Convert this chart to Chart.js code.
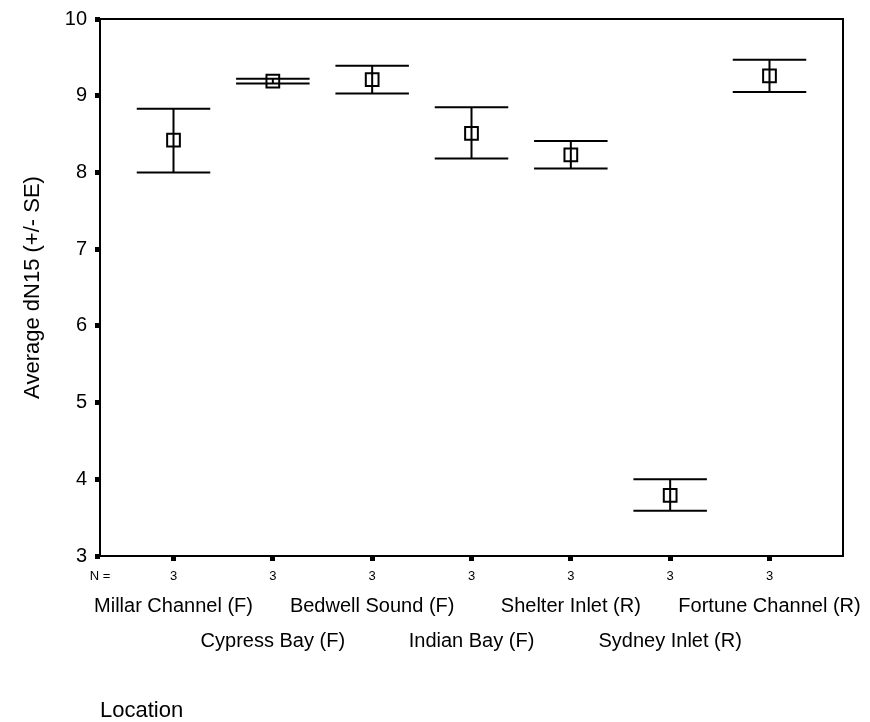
<!DOCTYPE html>
<html>
<head>
<meta charset="utf-8">
<script src="https://cdn.jsdelivr.net/npm/chart.js@4.4.1/dist/chart.umd.min.js"></script>
<style>
html,body{margin:0;padding:0;background:#fff;}
#wrap{width:870px;height:722px;position:relative;}
</style>
</head>
<body>
<div id="wrap"><canvas id="c" width="870" height="722"></canvas></div>
<script>
// ---- data ----
const categories = ['Millar Channel (F)', 'Cypress Bay (F)', 'Bedwell Sound (F)', 'Indian Bay (F)', 'Shelter Inlet (R)', 'Sydney Inlet (R)', 'Fortune Channel (R)'];
const means = [8.42, 9.19, 9.21, 8.51, 8.23, 3.79, 9.26];
const upper = [8.83, 9.22, 9.39, 8.85, 8.41, 4.00, 9.47];
const lower = [8.00, 9.16, 9.03, 8.18, 8.05, 3.59, 9.05];
const counts = [3, 3, 3, 3, 3, 3, 3];
const yTicks = [3, 4, 5, 6, 7, 8, 9, 10];

const FONT = 'Arial, "Liberation Sans", Helvetica, sans-serif';

const errorBars = {
  id: 'errorBars',
  afterDatasetsDraw(chart) {
    const ctx = chart.ctx, xs = chart.scales.x, ys = chart.scales.y;
    ctx.save();
    ctx.strokeStyle = '#000';
    ctx.lineWidth = 2;
    means.forEach((m, i) => {
      const cx = xs.getPixelForValue(i);
      const xl = xs.getPixelForValue(i - 0.37), xr = xs.getPixelForValue(i + 0.37);
      const yu = ys.getPixelForValue(upper[i]), yl = ys.getPixelForValue(lower[i]);
      ctx.beginPath();
      ctx.moveTo(cx, yu); ctx.lineTo(cx, yl);
      ctx.moveTo(xl, yu); ctx.lineTo(xr, yu);
      ctx.moveTo(xl, yl); ctx.lineTo(xr, yl);
      ctx.stroke();
    });
    // frame
    const a = chart.chartArea;
    ctx.lineWidth = 2;
    ctx.strokeRect(a.left, a.top, a.right - a.left, a.bottom - a.top);
    // N row
    ctx.fillStyle = '#000';
    ctx.font = '13px ' + FONT;
    ctx.textAlign = 'center';
    ctx.textBaseline = 'middle';
    ctx.fillText('N =', a.left, 576);
    counts.forEach((n, i) => ctx.fillText(String(n), xs.getPixelForValue(i), 576));
    ctx.restore();
  }
};

new Chart(document.getElementById('c'), {
  type: 'scatter',
  data: {
    datasets: [{
      data: means.map((m, i) => ({ x: i, y: m })),
      pointStyle: 'rect',
      pointRadius: 9,
      pointHoverRadius: 9,
      backgroundColor: 'rgba(255,255,255,0)',
      borderColor: '#000',
      borderWidth: 2
    }]
  },
  plugins: [errorBars],
  options: {
    responsive: false,
    animation: false,
    devicePixelRatio: 1,
    layout: { padding: { left: 0, right: 27, top: 19, bottom: 0 } },
    plugins: { legend: { display: false }, tooltip: { enabled: false } },
    scales: {
      x: {
        type: 'linear',
        position: 'bottom',
        min: -0.74,
        max: 6.74,
        afterBuildTicks: (s) => { s.ticks = categories.map((c, i) => ({ value: i })); },
        afterFit: (s) => { s.height = 166; s.paddingLeft = 0; s.paddingRight = 0; },
        border: { display: false },
        grid: { drawOnChartArea: false, drawTicks: true, tickLength: 5, tickWidth: 5, tickColor: '#000' },
        ticks: {
          autoSkip: false,
          maxRotation: 0,
          minRotation: 0,
          color: '#000',
          padding: 28,
          font: { family: FONT, size: 20, lineHeight: 1.75 },
          callback: (v) => {
            const i = Math.round(v);
            return i % 2 === 0 ? [categories[i]] : ['', categories[i]];
          }
        },
        title: {
          display: true,
          text: 'Location',
          align: 'start',
          color: '#000',
          font: { family: FONT, size: 22 },
          padding: { top: 0, bottom: -2 }
        }
      },
      y: {
        min: 3,
        max: 10,
        afterBuildTicks: (s) => { s.ticks = yTicks.map(v => ({ value: v })); },
        afterFit: (s) => { s.width = 100; s.paddingTop = 0; s.paddingBottom = 0; },
        border: { display: false },
        grid: { drawOnChartArea: false, drawTicks: true, tickLength: 5, tickWidth: 5, tickColor: '#000' },
        ticks: { color: '#000', padding: 8, font: { family: FONT, size: 20 } },
        title: {
          display: true,
          text: 'Average dN15 (+/- SE)',
          color: '#000',
          font: { family: FONT, size: 22 },
          padding: { top: 20, bottom: 0 }
        }
      }
    }
  }
});
</script>
</body>
</html>
